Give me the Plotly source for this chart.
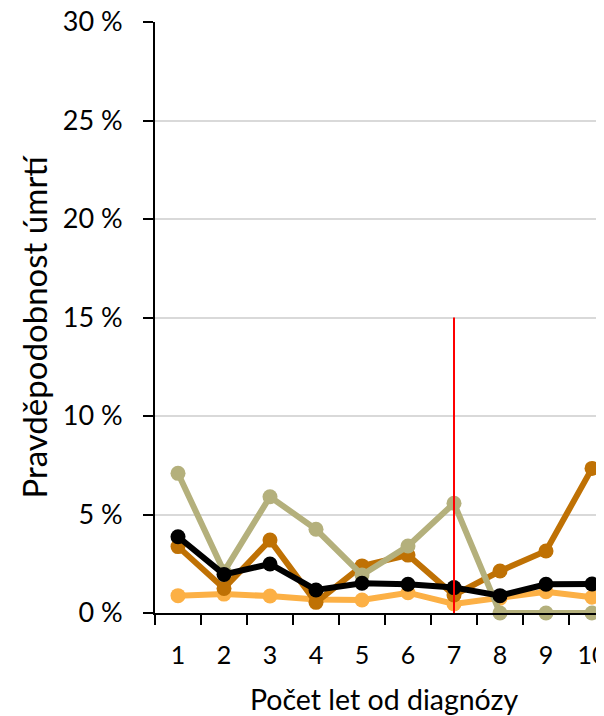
import plotly.graph_objects as go

years = [1, 2, 3, 4, 5, 6, 7, 8, 9, 10]

# pravděpodobnost úmrtí v %
light_orange = [0.88, 0.96, 0.86, 0.69, 0.66, 1.03, 0.46, 0.75, 1.08, 0.80]
dark_orange = [3.37, 1.25, 3.70, 0.54, 2.39, 2.94, 0.91, 2.13, 3.15, 7.34]
khaki = [7.09, 2.10, 5.90, 4.25, 1.93, 3.40, 5.57, 0.0, 0.0, 0.0]
black = [3.87, 1.96, 2.49, 1.17, 1.51, 1.46, 1.29, 0.88, 1.46, 1.47]

red_x = [7, 7]
red_y = [0, 15]

y_ticks = [0, 5, 10, 15, 20, 25, 30]
y_labels = ["0 %", "5 %", "10 %", "15 %", "20 %", "25 %", "30 %"]

series = [
    (light_orange, "#FCB045"),
    (dark_orange, "#BF7104"),
    (khaki, "#B4B07C"),
    (black, "#000000"),
]

fig = go.Figure()

for vals, color in series:
    fig.add_trace(go.Scatter(
        x = years,
        y = vals,
        mode = "lines+markers",
        line = dict(color = color, width = 6),
        marker = dict(color = color, size = 15),
        showlegend = False,
        cliponaxis = False
    ))

fig.add_trace(go.Scatter(
    x = red_x,
    y = red_y,
    mode = "lines",
    line = dict(color = "#FF0000", width = 2),
    showlegend = False
))

font_family = "Lato, Open Sans, sans-serif"

# the page has an 8px body margin, so the figure is 8px smaller than the window
fig.update_layout(
    width = 596,
    height = 708,
    margin = dict(l = 147, r = 0, t = 14, b = 103, autoexpand = False),
    plot_bgcolor = "white",
    paper_bgcolor = "white",
    font = dict(family = font_family, size = 26, color = "black"),
    annotations = [
        dict(
            text = "Počet let od diagnózy",
            xref = "paper", yref = "paper",
            x = (376 - 147) / (596 - 147), y = 0,
            yshift = -86,
            xanchor = "center", yanchor = "middle",
            showarrow = False,
            font = dict(size = 28.5)
        ),
        dict(
            text = "Pravděpodobnost úmrtí",
            xref = "paper", yref = "paper",
            x = 0, y = 0.5,
            xshift = -122, yshift = -9,
            textangle = -90,
            xanchor = "center", yanchor = "middle",
            showarrow = False,
            font = dict(size = 33)
        ),
    ]
)

fig.update_xaxes(
    range = [0.5, 0.5 + 449 / 46],
    tickvals = years,
    ticktext = [str(y) for y in years],
    ticks = "outside",
    ticklen = 19,
    tickcolor = "rgba(0,0,0,0)",
    tickfont = dict(size = 25),
    ticklabeloverflow = "allow",
    automargin = False,
    showgrid = False,
    zeroline = False,
    showline = True,
    linecolor = "black",
    linewidth = 2,
    minor = dict(tick0 = 0.5, dtick = 1, ticks = "outside", ticklen = 10,
                 tickcolor = "black", tickwidth = 2, showgrid = False),
)

fig.update_yaxes(
    range = [0, 30],
    tickvals = y_ticks,
    ticktext = y_labels,
    ticks = "outside",
    ticklen = 10,
    tickwidth = 2,
    tickcolor = "black",
    tickfont = dict(size = 27),
    ticklabelstandoff = 15,
    ticklabeloverflow = "allow",
    automargin = False,
    showgrid = True,
    gridcolor = "#D9D9D9",
    gridwidth = 2,
    zeroline = False,
    showline = True,
    linecolor = "black",
    linewidth = 2,
)

fig.write_html("out.html")
